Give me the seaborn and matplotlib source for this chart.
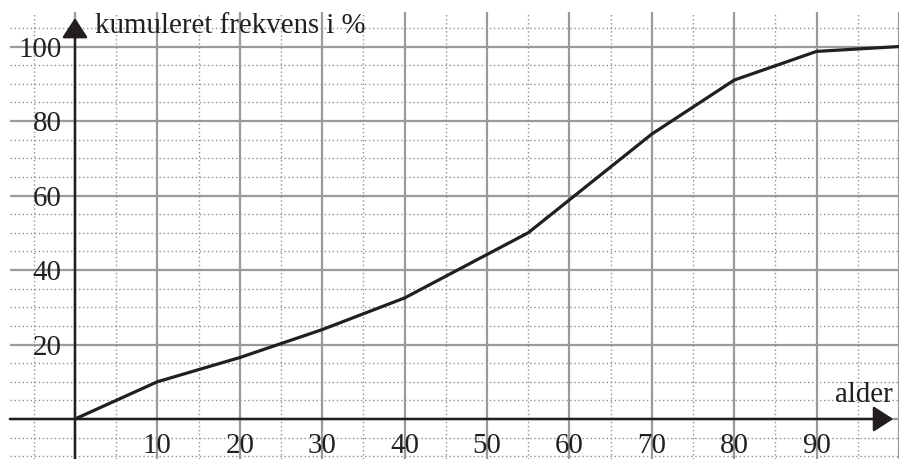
import numpy as np
import matplotlib
matplotlib.use("Agg")
import matplotlib.pyplot as plt
import seaborn as sns

# =====================================================
# DATA
# =====================================================

alder = [0, 10, 20, 30, 40, 55, 70, 80, 90, 100]
frekvens = [0, 10, 16.5, 24, 32.5, 50, 76.5, 91, 98.7, 100]

y_ticks = [20, 40, 60, 80, 100]
x_ticks = [10, 20, 30, 40, 50, 60, 70, 80, 90]

y_title = "kumuleret frekvens i %"
x_title = "alder"

# =====================================================
# STYLE
# =====================================================

sns.set_style("white")
plt.rcParams['font.family'] = ['Liberation Serif', 'DejaVu Serif']

ink = "#231f20"
grid_solid = "#9a9a9a"
grid_dot = "#8f8f8f"
fs = 20.8

fig = plt.figure(figsize=(8.99, 4.59), dpi=100)
ax = fig.add_axes([0, 0, 1, 1])
ax.set_xlim(-9.1, 100)
ax.set_ylim(-10.74, 112.5)
ax.axis("off")

# =====================================================
# GRID
# =====================================================

for v in range(-10, 110, 5):
    if v % 20 == 0:
        ax.hlines(v, -7.9, 100, color=grid_solid, lw=1.6, zorder=1)
    else:
        ax.hlines(v, -7.9, 100, color=grid_dot, lw=1.0,
                  linestyle=(0, (1, 1.9)), zorder=1)

for v in range(-5, 101, 5):
    if v % 10 == 0:
        ax.vlines(v, -10.74, 109.3, color=grid_solid, lw=1.6, zorder=1)
    else:
        ax.vlines(v, -10.74, 109.3, color=grid_dot, lw=1.0,
                  linestyle=(0, (1, 1.9)), zorder=1)

# =====================================================
# AXES WITH ARROWS
# =====================================================

arrow = dict(arrowstyle="-|>,head_length=12.2,head_width=7.9",
             mutation_scale=1, color=ink, lw=1.8,
             shrinkA=0, shrinkB=0)
ax.annotate("", xy=(0, 107.7), xytext=(0, -10.74), arrowprops=arrow, zorder=3)
ax.annotate("", xy=(99.3, 0), xytext=(-7.9, 0), arrowprops=arrow, zorder=3)

# =====================================================
# CURVE
# =====================================================

sns.lineplot(x=alder, y=frekvens, ax=ax, color=ink, lw=2.3, zorder=4)

# =====================================================
# LABELS
# =====================================================

for v in y_ticks:
    ax.text(-1.6, v - 2.7, str(v), ha="right", va="baseline",
            fontsize=fs, color=ink, zorder=5)

for v in x_ticks:
    ax.text(v, -9.1, str(v), ha="center", va="baseline",
            fontsize=fs, color=ink, zorder=5)

ax.text(2.4, 103.7, y_title, ha="left", va="baseline",
        fontsize=fs, color=ink, zorder=5)
ax.text(99.2, 4.6, x_title, ha="right", va="baseline",
        fontsize=fs, color=ink, zorder=5)

fig.savefig("out.png", dpi=100)
